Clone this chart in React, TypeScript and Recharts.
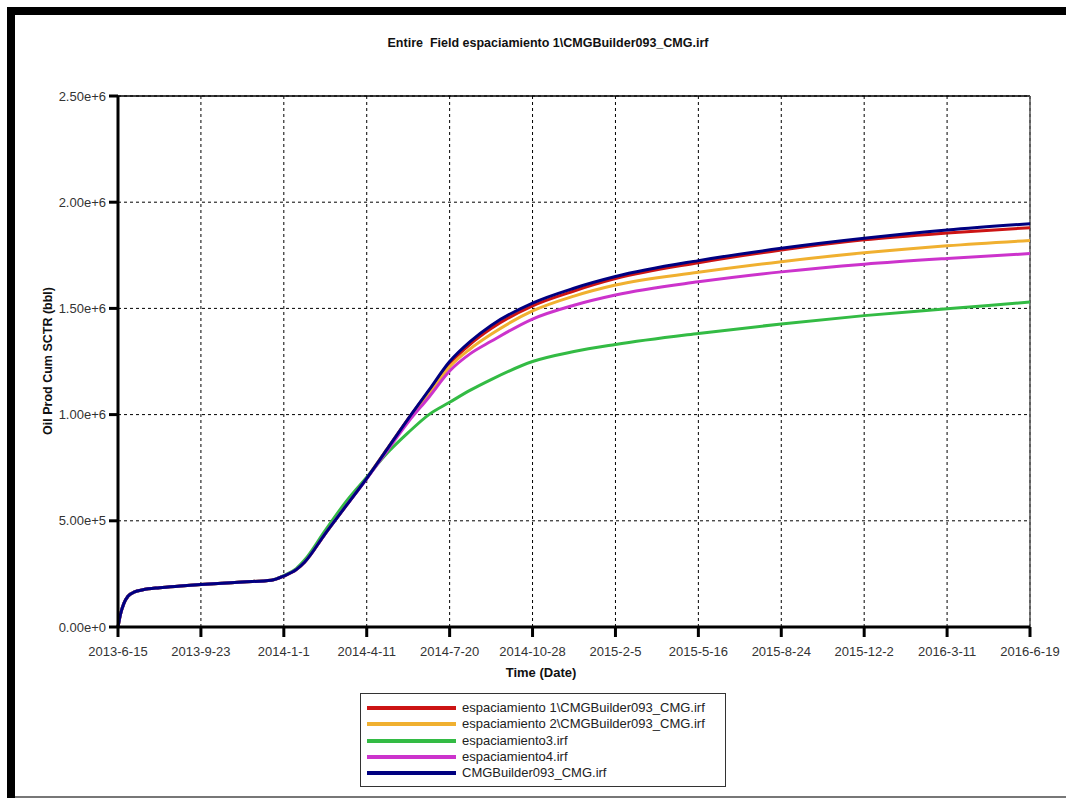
import React from 'react';
import { LineChart, Line, XAxis, YAxis, CartesianGrid, ReferenceLine, Legend } from 'recharts';

const days = [0, 3, 7, 12, 20, 30, 50, 75, 100, 150, 185, 200, 215, 225, 250, 275, 300, 325, 350, 375, 400, 425, 450, 500, 550, 600, 700, 800, 900, 1000, 1100];

const esp1 = [0, 60000, 110000, 145000, 165000, 175000, 185000, 193000, 200000, 212000, 220000, 240000, 270000, 305000, 440000, 570000, 700000, 840000, 980000, 1110000, 1240000, 1332000, 1405000, 1512000, 1582000, 1640000, 1715000, 1775000, 1823000, 1855000, 1880000];
const esp2 = [0, 60000, 110000, 145000, 165000, 175000, 185000, 193000, 200000, 212000, 220000, 240000, 270000, 305000, 440000, 572000, 702000, 840000, 975000, 1095000, 1225000, 1310000, 1378000, 1488000, 1558000, 1610000, 1670000, 1720000, 1762000, 1795000, 1820000];
const esp3 = [0, 60000, 110000, 145000, 165000, 175000, 185000, 193000, 200000, 212000, 220000, 242000, 275000, 315000, 455000, 590000, 705000, 820000, 915000, 1000000, 1058000, 1115000, 1165000, 1250000, 1297000, 1330000, 1382000, 1427000, 1466000, 1498000, 1530000];
const esp4 = [0, 60000, 110000, 145000, 165000, 175000, 185000, 193000, 200000, 212000, 220000, 240000, 270000, 305000, 440000, 570000, 698000, 832000, 965000, 1082000, 1205000, 1287000, 1345000, 1450000, 1515000, 1563000, 1625000, 1672000, 1708000, 1735000, 1758000];
const cmgBuilder = [0, 60000, 110000, 145000, 165000, 175000, 185000, 193000, 200000, 212000, 220000, 240000, 270000, 305000, 440000, 570000, 700000, 840000, 980000, 1115000, 1250000, 1345000, 1420000, 1525000, 1595000, 1650000, 1725000, 1783000, 1830000, 1869000, 1899000];

const xTickValues = [0, 100, 200, 300, 400, 500, 600, 700, 800, 900, 1000, 1100];
const xTickLabels = ['2013-6-15', '2013-9-23', '2014-1-1', '2014-4-11', '2014-7-20', '2014-10-28', '2015-2-5', '2015-5-16', '2015-8-24', '2015-12-2', '2016-3-11', '2016-6-19'];
const yTickValues = [0, 500000, 1000000, 1500000, 2000000, 2500000];
const yTickLabels = ['0.00e+0', '5.00e+5', '1.00e+6', '1.50e+6', '2.00e+6', '2.50e+6'];

const seriesNames = [
  'espaciamiento 1\\CMGBuilder093_CMG.irf',
  'espaciamiento 2\\CMGBuilder093_CMG.irf',
  'espaciamiento3.irf',
  'espaciamiento4.irf',
  'CMGBuilder093_CMG.irf',
];
const seriesKeys = ['esp1', 'esp2', 'esp3', 'esp4', 'cmg'];
const seriesColors = ['#CC1414', '#F0B030', '#33BB44', '#CC33CC', '#000080'];

const data = days.map((d, i) => ({
  day: d,
  esp1: esp1[i],
  esp2: esp2[i],
  esp3: esp3[i],
  esp4: esp4[i],
  cmg: cmgBuilder[i],
}));

const FONT = '"Liberation Sans", Arial, sans-serif';

const LegendBox = () => (
  <div
    style={{
      width: 364,
      height: 86,
      border: '1px solid #333',
      background: '#fff',
      fontFamily: FONT,
      fontSize: 13,
      color: '#222',
      boxSizing: 'content-box',
      paddingTop: 6,
    }}
  >
    {seriesNames.map((n, i) => (
      <div key={n} style={{ display: 'flex', alignItems: 'center', height: 16.3 }}>
        <div style={{ marginLeft: 6, width: 89, height: 4, background: seriesColors[i] }} />
        <span style={{ marginLeft: 6, lineHeight: '16px' }}>{n}</span>
      </div>
    ))}
  </div>
);

const YLabel = (props: any) => {
  const x = 48;
  const y = 361;
  return (
    <text
      x={x}
      y={y}
      transform={`rotate(-90 ${x} ${y})`}
      textAnchor="middle"
      dominantBaseline="central"
      style={{ fontFamily: FONT, fontSize: 12.5, fontWeight: 'bold', fill: '#111' }}
    >
      Oil Prod Cum SCTR (bbl)
    </text>
  );
};

const XLabel = (props: any) => {
  return (
    <text
      x={541}
      y={677}
      textAnchor="middle"
      style={{ fontFamily: FONT, fontSize: 13, fontWeight: 'bold', fill: '#111' }}
    >
      Time (Date)
    </text>
  );
};

export default function App() {
  return (
    <div style={{ position: 'absolute', left: 0, top: 0, width: 1066, height: 798, background: '#fff', overflow: 'hidden' }}>
      <div style={{ position: 'absolute', left: 7, top: 7, width: 1059, height: 8, background: '#000' }} />
      <div style={{ position: 'absolute', left: 7, top: 7, width: 8, height: 791, background: '#000' }} />
      <div style={{ position: 'absolute', left: 15, top: 796, width: 1051, height: 2, background: '#777' }} />
      <div
        style={{
          position: 'absolute',
          left: 0,
          width: 1096,
          top: 36,
          textAlign: 'center',
          fontFamily: FONT,
          fontSize: 12.5,
          fontWeight: 'bold',
          color: '#111',
        }}
      >
        Entire&nbsp;&nbsp;Field espaciamiento 1\CMGBuilder093_CMG.irf
      </div>
      <div style={{ position: 'absolute', left: 0, top: 0 }}>
        <LineChart
          width={1066}
          height={798}
          data={data}
          margin={{ top: 96, right: 36, left: 48, bottom: 131 }}
        >
          <CartesianGrid stroke="#000" strokeDasharray="3 3" strokeWidth={1} horizontalValues={yTickValues} verticalValues={xTickValues} />
          <XAxis
            dataKey="day"
            type="number"
            domain={[0, 1100]}
            ticks={xTickValues}
            tickFormatter={(v: number) => xTickLabels[xTickValues.indexOf(v)]}
            height={40}
            tickSize={10}
            tickMargin={10}
            interval={0}
            axisLine={{ stroke: '#000', strokeWidth: 3 }}
            tickLine={{ stroke: '#000', strokeWidth: 3 }}
            tick={{ fontFamily: FONT, fontSize: 13, fill: '#333' }}
            label={<XLabel />}
          />
          <YAxis
            type="number"
            domain={[0, 2500000]}
            ticks={yTickValues}
            tickFormatter={(v: number) => yTickLabels[yTickValues.indexOf(v)]}
            width={70}
            tickSize={9}
            tickMargin={3}
            interval={0}
            axisLine={{ stroke: '#000', strokeWidth: 3 }}
            tickLine={{ stroke: '#000', strokeWidth: 3 }}
            tick={{ fontFamily: FONT, fontSize: 13, fill: '#333' }}
            label={<YLabel />}
          />
          <ReferenceLine y={2500000} stroke="#000" strokeWidth={1.5} />
          <ReferenceLine x={1100} stroke="#555" strokeWidth={1.5} />
          {seriesKeys.map((k, i) => (
            <Line
              key={k}
              type="monotone"
              dataKey={k}
              name={seriesNames[i]}
              stroke={seriesColors[i]}
              strokeWidth={3}
              dot={false}
              isAnimationActive={false}
            />
          ))}
          <Legend
            layout="horizontal"
            verticalAlign="middle"
            align="center"
            wrapperStyle={{ left: 360, top: 693, width: 366, height: 94 }}
            content={<LegendBox />}
          />
        </LineChart>
      </div>
    </div>
  );
}
